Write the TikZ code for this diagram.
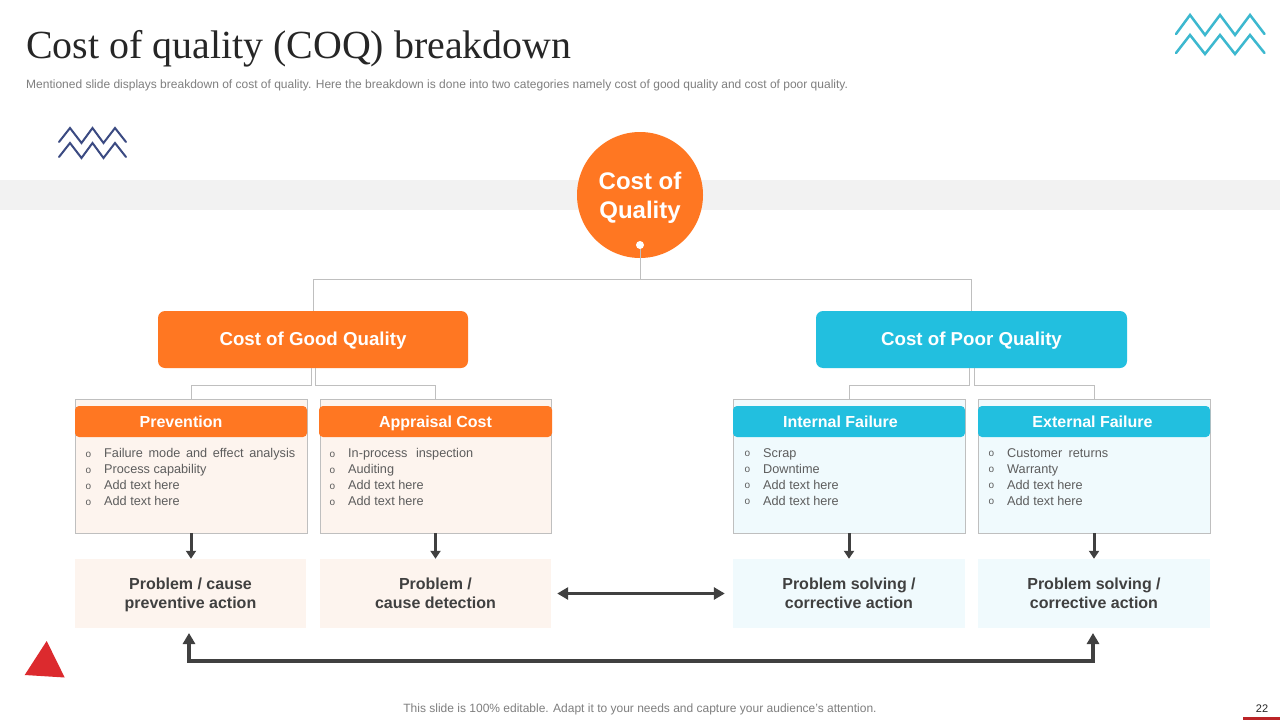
\documentclass[tikz,border=0pt]{standalone}
\usepackage{fontspec}
\setmainfont{Liberation Sans}
\newfontfamily\titlefont{Liberation Serif}
\usetikzlibrary{arrows.meta}
\definecolor{orng}{HTML}{FF7722}
\definecolor{cyn}{HTML}{22BFDF}
\definecolor{lorng}{HTML}{FDF4EE}
\definecolor{lcyn}{HTML}{F0FAFD}
\definecolor{edge}{HTML}{BFBFBF}
\definecolor{dark}{HTML}{404040}
\definecolor{txtg}{HTML}{7F7F7F}
\definecolor{navy}{HTML}{3B4A82}
\definecolor{zig}{HTML}{3CB8CF}
\definecolor{redt}{HTML}{DC2A2E}
\newcommand{\blt}{\makebox[18.5pt][l]{\raisebox{0.3pt}{\fontsize{10}{16}\selectfont o}}}
\newcommand{\firstln}{\rule{0pt}{14.5pt}}
\newcommand{\lastln}{\rule[-3.5pt]{0pt}{3.5pt}}
\tikzset{
  x=1pt,y=-1pt,
  mainbox/.style={rounded corners=7pt,minimum height=57pt,text=white,font=\fontsize{18.7}{23}\selectfont\bfseries,inner sep=0pt,text height=13.7pt,text depth=2pt},
  panel/.style={draw=edge,line width=0.8pt,minimum height=133.5pt,inner sep=0pt},
  headbox/.style={rounded corners=4pt,minimum height=31pt,text=white,font=\fontsize{16}{19}\selectfont\bfseries,inner sep=0pt,text height=11.6pt,text depth=0.6pt},
  probbox/.style={minimum height=69pt,text=dark,font=\fontsize{16}{19}\selectfont\bfseries,align=center,inner sep=0pt},
  listtxt/.style={anchor=north west,align=left,inner sep=0pt,text=dark!85!white,font=\fontsize{12.7}{16}\selectfont},
  thin conn/.style={draw=edge,line width=0.8pt},
  down arrow/.style={draw=dark,line width=3pt,-{Triangle[length=8pt,width=10pt]}},
  both arrow/.style={draw=dark,line width=3pt,{Triangle[length=11pt,width=12pt]}-{Triangle[length=11pt,width=12pt]}},
  wave/.style={line width=2pt,line join=miter,line cap=round},
}
\begin{document}
\begin{tikzpicture}
\useasboundingbox (0,0) rectangle (1280,720);
\fill[white] (0,0) rectangle (1280,720);
\fill[black!5] (0,180) rectangle (1280,210);

% title
\node[anchor=base west,inner sep=0pt,text=black!85] (title) at (26,58.5) {\titlefont\fontsize{39.9}{44}\selectfont Cost of quality (COQ) breakdown};
\node[anchor=west,inner sep=0pt,text=txtg] (sub) at (26,85.5) {\fontsize{12}{14}\selectfont Mentioned slide displays breakdown of cost of quality. Here the breakdown is done into two categories namely cost of good quality and cost of poor quality.};

% decorations
\draw[wave,navy] (59,142)--(70,128)--(81.5,143)--(92.5,128)--(103.5,143)--(115,128)--(126,142);
\draw[wave,navy] (59,157)--(70,143)--(81.5,158)--(92.5,143)--(103.5,158)--(115,143)--(126,157);
\draw[wave,zig,line width=2.5pt] (1176,34)--(1190,15)--(1205,35)--(1220,15)--(1235,35)--(1250,15)--(1264.5,34);
\draw[wave,zig,line width=2.5pt] (1176,53)--(1190,35)--(1205,54)--(1220,35)--(1235,54)--(1250,35)--(1264.5,53);
\fill[redt] (46.7,641)--(24.7,675)--(64.7,677.5)--cycle;
\fill[redt!85!black] (1243,717) rectangle (1280,720);

% main nodes
\node[circle,fill=orng,minimum size=126pt,inner sep=0pt,text=white,align=center,font=\fontsize{24}{29}\selectfont\bfseries] (cq) at (640,195) {\rule{0pt}{23.5pt}Cost of\\Quality};
\node[circle,fill=white,minimum size=8pt,inner sep=0pt] (dot) at (640,245) {};
\node[mainbox,fill=orng,minimum width=310pt] (good) at (313,339.5) {Cost of Good Quality};
\node[mainbox,fill=cyn,minimum width=311pt] (poor) at (971.5,339.5) {Cost of Poor Quality};

% panels
\node[panel,fill=lorng,minimum width=232pt] (p1) at (191,466.25) {};
\node[panel,fill=lorng,minimum width=231pt] (p2) at (435.5,466.25) {};
\node[panel,fill=lcyn,minimum width=232pt] (p3) at (849,466.25) {};
\node[panel,fill=lcyn,minimum width=232pt] (p4) at (1094,466.25) {};

\node[headbox,fill=orng,minimum width=232pt] (h1) at (191,421.5) {\hspace{-20pt}Prevention};
\node[headbox,fill=orng,minimum width=233pt] (h2) at (435.5,421.5) {Appraisal Cost};
\node[headbox,fill=cyn,minimum width=232pt] (h3) at (849,421.5) {\hspace{-17pt}Internal Failure};
\node[headbox,fill=cyn,minimum width=232pt] (h4) at (1094,421.5) {\hspace{-3pt}External Failure};

\node[listtxt] (l1) at (85.5,448) {\blt\makebox[191pt][s]{Failure mode and effect analysis}\\\blt Process capability\\\blt Add text here\\\blt Add text here};
\node[listtxt] (l2) at (329.5,448) {\blt\makebox[125pt][s]{In-process inspection}\\\blt Auditing\\\blt Add text here\\\blt Add text here};
\node[listtxt] (l3) at (744.5,448) {\blt Scrap\\\blt Downtime\\\blt Add text here\\\blt Add text here};
\node[listtxt] (l4) at (988.5,448) {\blt\makebox[101pt][s]{Customer returns}\\\blt Warranty\\\blt Add text here\\\blt Add text here};

% problem boxes
\node[probbox,fill=lorng,minimum width=231pt] (b1) at (190.5,593.5) {\firstln Problem / cause\\preventive action\lastln};
\node[probbox,fill=lorng,minimum width=231pt] (b2) at (435.5,593.5) {\firstln Problem /\\cause detection\lastln};
\node[probbox,fill=lcyn,minimum width=232pt] (b3) at (849,593.5) {\firstln Problem solving /\\corrective action\lastln};
\node[probbox,fill=lcyn,minimum width=232pt] (b4) at (1094,593.5) {\firstln Problem solving /\\corrective action\lastln};

% thin connectors
\coordinate (bus) at (640,279.5);
\draw[thin conn] (dot) -- (bus);
\draw[thin conn] (good.north) |- (bus) -| (poor.north);
\coordinate (gl) at (311,368);
\coordinate (gr) at (315,368);
\coordinate (pl) at (969.5,368);
\coordinate (pr) at (974,368);
\draw[thin conn] (gl) |- (191,385) -- (p1.north);
\draw[thin conn] (gr) |- (435.5,385) -- (p2.north);
\draw[thin conn] (pl) |- (849,385) -- (p3.north);
\draw[thin conn] (pr) |- (1094,385) -- (p4.north);

% dark arrows
\draw[down arrow] (p1.south) -- (b1.north -| p1.south);
\draw[down arrow] (p2.south) -- (b2.north);
\draw[down arrow] (p3.south) -- (b3.north);
\draw[down arrow] (p4.south) -- (b4.north);
\draw[both arrow] (b2.east) ++(6,0) -- ([xshift=-8pt]b3.west);
\coordinate (ba) at (189,633);
\coordinate (bb) at (1093,633);
\draw[draw=dark,line width=4pt,line join=miter,{Triangle[length=11pt,width=12pt]}-{Triangle[length=11pt,width=12pt]}] (ba) -- (189,661) -- (1093,661) -- (bb);

% footer
\node[inner sep=0pt,text=txtg] (foot) at (640,709) {\fontsize{12}{14}\selectfont This slide is 100\% editable. Adapt it to your needs and capture your audience's attention.};
\node[inner sep=0pt,text=black!85] (pg) at (1262,708.5) {\fontsize{11}{13}\selectfont 22};
\end{tikzpicture}
\end{document}
